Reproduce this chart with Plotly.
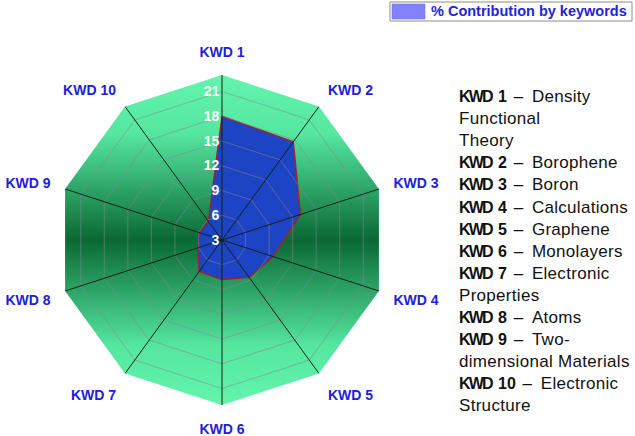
import base64, math
import plotly.graph_objects as go

# ---- data ----
categories = ["KWD 1", "KWD 2", "KWD 3", "KWD 4", "KWD 5",
              "KWD 6", "KWD 7", "KWD 8", "KWD 9", "KWD 10"]
contribution = [18.0, 17.7, 13.0, 9.5, 8.6, 7.8, 7.7, 6.1, 5.9, 5.8]
radial_ticks = [3, 6, 9, 12, 15, 18, 21]
series_name = "% Contribution by keywords"
keyword_names = [
    ("KWD 1", "Density<br>Functional<br>Theory"),
    ("KWD 2", "Borophene"),
    ("KWD 3", "Boron"),
    ("KWD 4", "Calculations"),
    ("KWD 5", "Graphene"),
    ("KWD 6", "Monolayers"),
    ("KWD 7", "Electronic<br>Properties"),
    ("KWD 8", "Atoms"),
    ("KWD 9", "Two-<br>dimensional Materials"),
    ("KWD 10", "Electronic<br>Structure"),
]

# ---- layout geometry ----
W, H = 635, 436
cx, cy, R = 222, 240, 165
r_min, r_max = 3, 23
dom_x = [(cx - R) / W, (cx + R) / W]
dom_y = [(H - cy - R) / H, (H - cy + R) / H]

# gradient decagon background (decoration) as svg image
n = len(categories)
pts = []
for k in range(n):
    a = math.radians(90 - 360 * k / n)
    pts.append(f"{R + R*math.cos(a):.2f},{R - R*math.sin(a):.2f}")
svg = (f'<svg xmlns="http://www.w3.org/2000/svg" width="{2*R}" height="{2*R}" viewBox="0 0 {2*R} {2*R}">'
       '<defs><linearGradient id="g" x1="0" y1="0" x2="0" y2="1">'
       '<stop offset="0" stop-color="#63f5ae"/>'
       '<stop offset="0.18" stop-color="#55e6a0"/>'
       '<stop offset="0.5" stop-color="#0a6834"/>'
       '<stop offset="0.82" stop-color="#55e6a0"/>'
       '<stop offset="1" stop-color="#63f5ae"/>'
       '</linearGradient></defs>'
       f'<polygon points="{" ".join(pts)}" fill="url(#g)"/></svg>')
svg_uri = "data:image/svg+xml;base64," + base64.b64encode(svg.encode()).decode()

fig = go.Figure()

# data polygon
fig.add_trace(go.Scatterpolar(
    r=contribution + contribution[:1],
    theta=categories + categories[:1],
    mode="lines", fill="toself",
    fillcolor="#1c44c4",
    line=dict(color="#9a2430", width=1.5),
    name=series_name, showlegend=False, hoverinfo="skip"))

# grid rings above the fill
for t in radial_ticks[1:]:
    fig.add_trace(go.Scatterpolar(
        r=[t] * (n + 1), theta=categories + categories[:1],
        mode="lines", line=dict(color="rgba(135,135,150,0.55)", width=1),
        showlegend=False, hoverinfo="skip"))

# spokes above the fill
sr, st = [], []
for c in categories:
    sr += [r_min, r_max, None]
    st += [c, c, None]
fig.add_trace(go.Scatterpolar(
    r=sr, theta=st, mode="lines", connectgaps=False,
    line=dict(color="#0f2414", width=1),
    showlegend=False, hoverinfo="skip"))

fig.update_layout(
    width=W, height=H, autosize=False,
    margin=dict(l=0, r=0, t=0, b=0),
    paper_bgcolor="white", plot_bgcolor="white",
    showlegend=False,
    font=dict(family="Arial, Liberation Sans, sans-serif"),
    polar=dict(
        domain=dict(x=dom_x, y=dom_y),
        bgcolor="rgba(0,0,0,0)",
        gridshape="linear",
        angularaxis=dict(
            type="category", categoryarray=categories,
            direction="clockwise", rotation=90,
            showgrid=False, showline=False,
            ticks="outside", ticklen=12, tickcolor="rgba(0,0,0,0)",
            tickfont=dict(size=14, color="#2020dc", weight="bold"),
        ),
        radialaxis=dict(
            range=[r_min, r_max], tickvals=radial_ticks,
            angle=90, side="counterclockwise", tickangle=90,
            showgrid=False, showline=False, ticks="",
            tickfont=dict(size=14, color="white", weight="bold"),
        ),
    ),
    images=[dict(source=svg_uri, xref="paper", yref="paper",
                 x=dom_x[0], y=dom_y[1], sizex=dom_x[1] - dom_x[0], sizey=dom_y[1] - dom_y[0],
                 xanchor="left", yanchor="top", sizing="stretch", layer="below")],
)

# legend box (drawn)
def px_x(v): return v / W
def px_y(v): return 1 - v / H
fig.add_shape(type="rect", xref="paper", yref="paper",
              x0=px_x(390), x1=px_x(632), y0=px_y(21), y1=px_y(2),
              line=dict(color="#8c8c8c", width=1), fillcolor="white")
fig.add_shape(type="rect", xref="paper", yref="paper",
              x0=px_x(392), x1=px_x(425), y0=px_y(19), y1=px_y(4),
              line=dict(color="#6a6ae0", width=0.5), fillcolor="#8282ff")
fig.add_annotation(xref="paper", yref="paper", x=px_x(429), y=px_y(11.5),
                   xanchor="left", yanchor="middle", showarrow=False,
                   text=f"<b>{series_name}</b>",
                   font=dict(size=14.5, color="#2424d6"))

# keyword text block
lines = []
for k, v in keyword_names:
    word, num = k.split(" ")
    lines.append(f"<b><span style=\"letter-spacing:-1.8px;font-size:16px;\">{word[:-1]}</span>"
                 f"<span style=\"font-size:16px;\">{word[-1]} {num}</span></b>"
                 f"<span style=\"letter-spacing:2px;\"> – </span>"
                 f"<span style=\"letter-spacing:0.3px;\">{v}</span>")
fig.add_annotation(xref="paper", yref="paper", x=px_x(457), y=px_y(85),
                   xanchor="left", yanchor="top", align="left", showarrow=False,
                   text="<br>".join(lines),
                   font=dict(size=17, color="#111111", family="Arial, Liberation Sans"))

fig.write_html("out.html")
